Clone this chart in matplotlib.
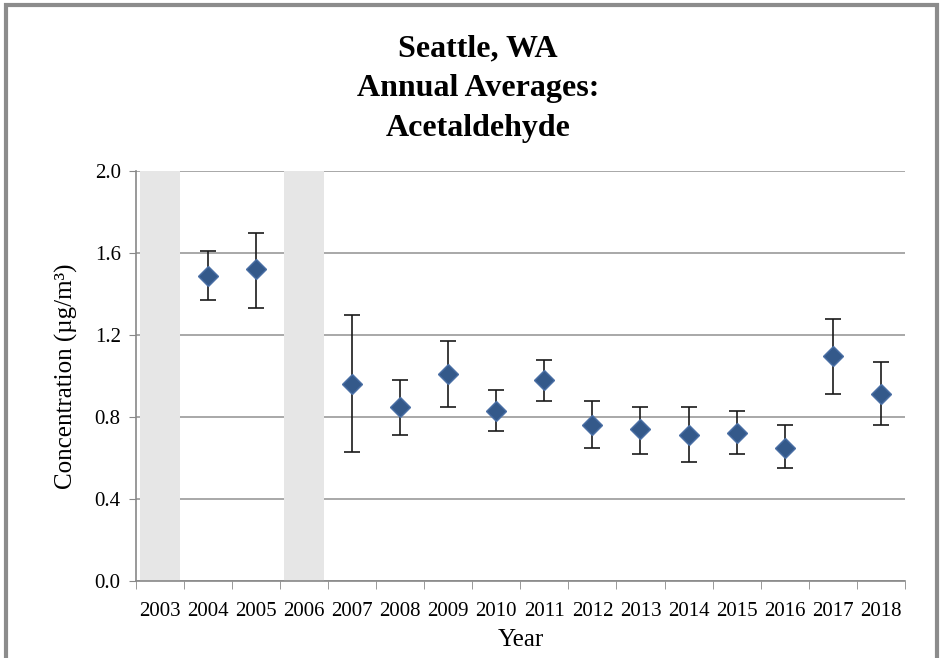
import numpy as np
import matplotlib.pyplot as plt
from matplotlib.patches import Rectangle

# values
years = [str(y) for y in range(2003, 2019)]
no_data_years = ["2003", "2006"]
data_years = ["2004", "2005", "2007", "2008", "2009", "2010", "2011", "2012",
              "2013", "2014", "2015", "2016", "2017", "2018"]
means = [1.49, 1.52, 0.96, 0.85, 1.01, 0.83, 0.98, 0.76,
         0.74, 0.71, 0.72, 0.65, 1.10, 0.91]
upper = [1.61, 1.70, 1.30, 0.98, 1.17, 0.93, 1.08, 0.88,
         0.85, 0.85, 0.83, 0.76, 1.28, 1.07]
lower = [1.37, 1.33, 0.63, 0.71, 0.85, 0.73, 0.88, 0.65,
         0.62, 0.58, 0.62, 0.55, 0.91, 0.76]

serif = ["Liberation Serif", "DejaVu Serif"]
plt.rcParams["font.family"] = serif

fig = plt.figure(figsize=(9.41, 6.58), dpi=100)
ax = fig.add_axes([0.1445, 0.117, 0.817, 0.623])

xpos = {y: i for i, y in enumerate(years)}

# grey shading for years without data
ax.bar([xpos[y] for y in no_data_years], [2.0] * len(no_data_years),
       width=0.82, color="#e6e6e6", zorder=1)

x = np.array([xpos[y] for y in data_years])
m = np.array(means)
yerr = [m - np.array(lower), np.array(upper) - m]
ax.errorbar(x, m, yerr=yerr, fmt="none", ecolor="#1a1a1a", elinewidth=1.2,
            capsize=6, capthick=1.2, zorder=3)
ax.plot(x, m, "D", color="#34598a", markeredgecolor="#4a6fa5",
        markersize=10, zorder=4, linestyle="none")

ax.set_xlim(-0.5, len(years) - 0.5)
ax.set_ylim(0, 2.0)
ax.set_yticks(np.arange(0, 2.01, 0.4))
ax.set_yticklabels([f"{v:.1f}" for v in np.arange(0, 2.01, 0.4)])
ax.yaxis.grid(True, color="#9a9a9a", linewidth=1.2)
ax.set_axisbelow(True)

ax.set_xticks(range(len(years)))
ax.set_xticklabels(years)
ax.set_xticks(np.arange(-0.5, len(years)), minor=True)
ax.tick_params(axis="x", which="major", length=0, labelsize=15, pad=15)
ax.tick_params(axis="x", which="minor", length=6, color="#888888")
ax.tick_params(axis="y", length=5, color="#888888", labelsize=15, pad=6)

for side in ["top", "right"]:
    ax.spines[side].set_visible(False)
for side in ["left", "bottom"]:
    ax.spines[side].set_color("#888888")
    ax.spines[side].set_linewidth(1.2)

ax.set_xlabel("Year", fontsize=18, labelpad=6)
ax.set_ylabel("Concentration (µg/m³)", fontsize=18, labelpad=12)

fig.text(0.508, 0.948, "Seattle, WA\nAnnual Averages:\nAcetaldehyde",
         ha="center", va="top", fontsize=23, fontweight="bold",
         linespacing=1.5)

fig.patches.append(Rectangle((0.006, -0.05), 0.99, 1.042,
                             transform=fig.transFigure, fill=False,
                             edgecolor="#8c8c8c", linewidth=3))

fig.savefig("out.png", dpi=100)
